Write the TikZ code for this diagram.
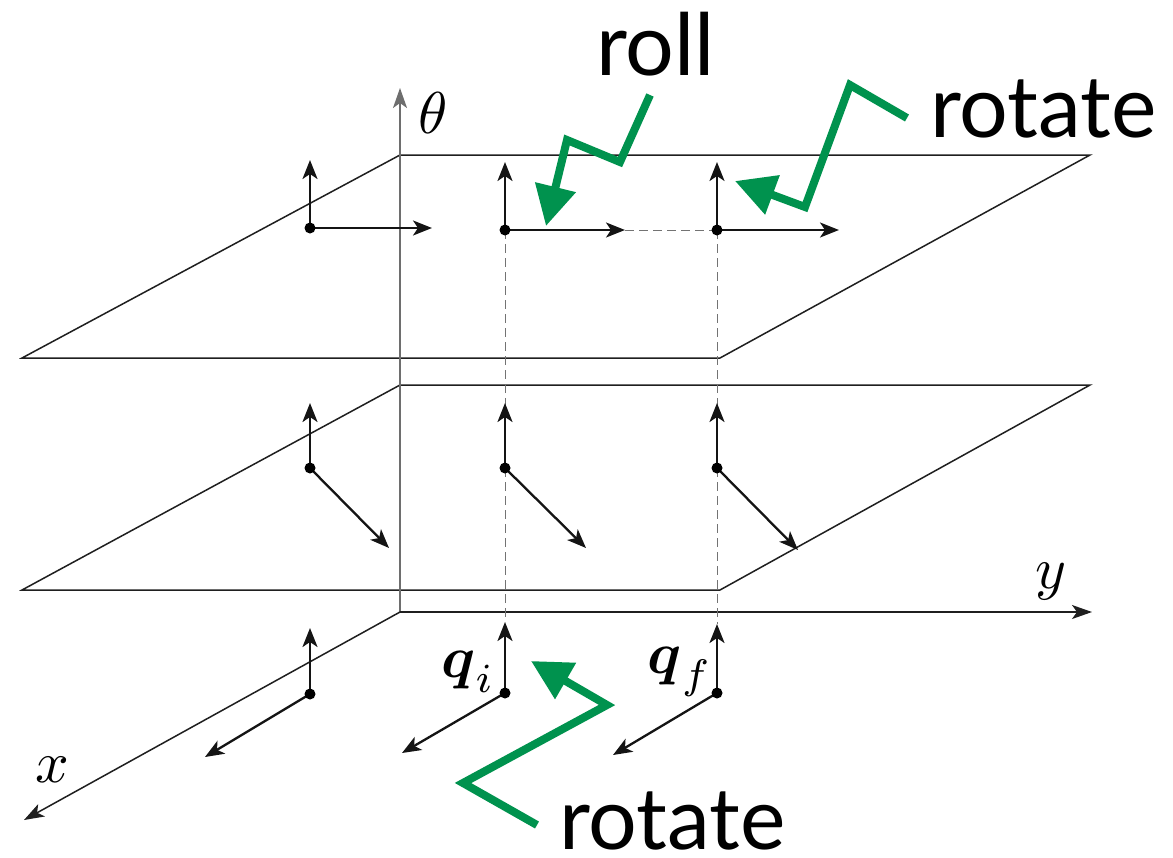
\documentclass[tikz,border=0pt]{standalone}
\usepackage{amsmath}
\usepackage{fontspec}
\newfontfamily\labfont{Lato}
\usetikzlibrary{arrows.meta}
\definecolor{grn}{RGB}{0,146,78}
\definecolor{axisgray}{RGB}{110,110,110}
\tikzset{
  planeline/.style={line width=1.5pt, draw=black!88},
  axisline/.style={line width=1.5pt, draw=black!88, -{Stealth[length=20pt,width=14pt,inset=5pt]}},
  thetaaxis/.style={line width=1.5pt, draw=axisgray, -{Stealth[length=20pt,width=14pt,inset=5pt]}},
  vec/.style={line width=2.3pt, draw=black!92, -{Stealth[length=19pt,width=15pt,inset=5pt]}},
  guide/.style={line width=1pt, draw=black!55, dash pattern=on 9pt off 5pt},
  dotmark/.style={circle, fill=black, inner sep=0pt, minimum size=11pt},
  greenarrow/.style={line width=8pt, draw=grn, line join=miter, -{Triangle[length=40pt,width=40pt]}},
  bigtext/.style={font=\labfont\fontsize{86}{90}\selectfont, inner sep=0pt, text depth=0pt, anchor=base west},
  mathlab/.style={inner sep=0pt, scale=5.9, transform shape},
}
\begin{document}
\begin{tikzpicture}[x=1pt,y=-1pt]
\useasboundingbox (0,0) rectangle (1173,857);
% axes coordinates
\coordinate (O) at (400,612);
\coordinate (thetatip) at (400,88);
\coordinate (ytip) at (1092,612);
\coordinate (xtip) at (24,820);
% planes
\coordinate (T1) at (400,155); \coordinate (T2) at (1090,155);
\coordinate (T3) at (720,358); \coordinate (T4) at (22,358);
\coordinate (L1) at (400,385); \coordinate (L2) at (1090,385);
\coordinate (L3) at (720,590); \coordinate (L4) at (22,590);
\draw[planeline] (T1) -- (T2) -- (T3) -- (T4) -- cycle;
\draw[planeline] (L1) -- (L2) -- (L3) -- (L4) -- cycle;
% axes
\draw[thetaaxis] (O) -- (thetatip);
\draw[axisline] (O) -- (ytip);
\draw[axisline] (O) -- (xtip);
\node[mathlab] (thlab) at (433,113) {$\theta$};
\node[mathlab] (ylab) at (1051,582) {$y$};
\node[mathlab] (xlab) at (52,770) {$x$};
% frame points: top level
\coordinate (a1) at (310,228); \coordinate (a1u) at (310,160); \coordinate (a1h) at (432,228);
\coordinate (b1) at (505,230); \coordinate (b1u) at (505,162); \coordinate (b1h) at (625,230);
\coordinate (c1) at (717,230); \coordinate (c1u) at (717,162); \coordinate (c1h) at (839,230);
% middle level
\coordinate (a2) at (310,468); \coordinate (a2u) at (310,403); \coordinate (a2h) at (389,548);
\coordinate (b2) at (505,468); \coordinate (b2u) at (505,403); \coordinate (b2h) at (586,548);
\coordinate (c2) at (717,468); \coordinate (c2u) at (717,403); \coordinate (c2h) at (798,550);
% bottom level
\coordinate (a3) at (310,694); \coordinate (a3u) at (310,628); \coordinate (a3h) at (205,757);
\coordinate (b3) at (505,693); \coordinate (b3u) at (505,622); \coordinate (b3h) at (402,753);
\coordinate (c3) at (717,693); \coordinate (c3u) at (717,624); \coordinate (c3h) at (613,755);
% guides
\draw[guide] (b1) -- (b3u);
\draw[guide] (c1) -- (c3u);
\draw[guide] (b1h) -- (c1);
% vectors
\foreach \p in {a1,b1,c1,a2,b2,c2,a3,b3,c3}{
  \draw[vec] (\p) -- (\p u);
  \draw[vec] (\p) -- (\p h);
  \node[dotmark] at (\p) {};
}
\node[mathlab] (qi) at (468,672) {$\boldsymbol{q}_i$};
\node[mathlab] (qf) at (680,672) {$\boldsymbol{q}_f$};
% green arrows
\coordinate (r1) at (650,95); \coordinate (r2) at (620,162); \coordinate (r3) at (567,140); \coordinate (r4) at (546,226);
\draw[greenarrow] (r1) -- (r2) -- (r3) -- (r4);
\coordinate (s1) at (907,118); \coordinate (s2) at (850,85); \coordinate (s3) at (805,207); \coordinate (s4) at (735,181);
\draw[greenarrow] (s1) -- (s2) -- (s3) -- (s4);
\coordinate (u1) at (537,825); \coordinate (u2) at (463,783); \coordinate (u3) at (607,705); \coordinate (u4) at (531,661);
\draw[greenarrow] (u1) -- (u2) -- (u3) -- (u4);
% labels
\node[bigtext] (roll) at (596,75) {roll};
\node[bigtext] (rotA) at (930,137) {rotate};
\node[bigtext] (rotB) at (559,849) {rotate};
\end{tikzpicture}
\end{document}
